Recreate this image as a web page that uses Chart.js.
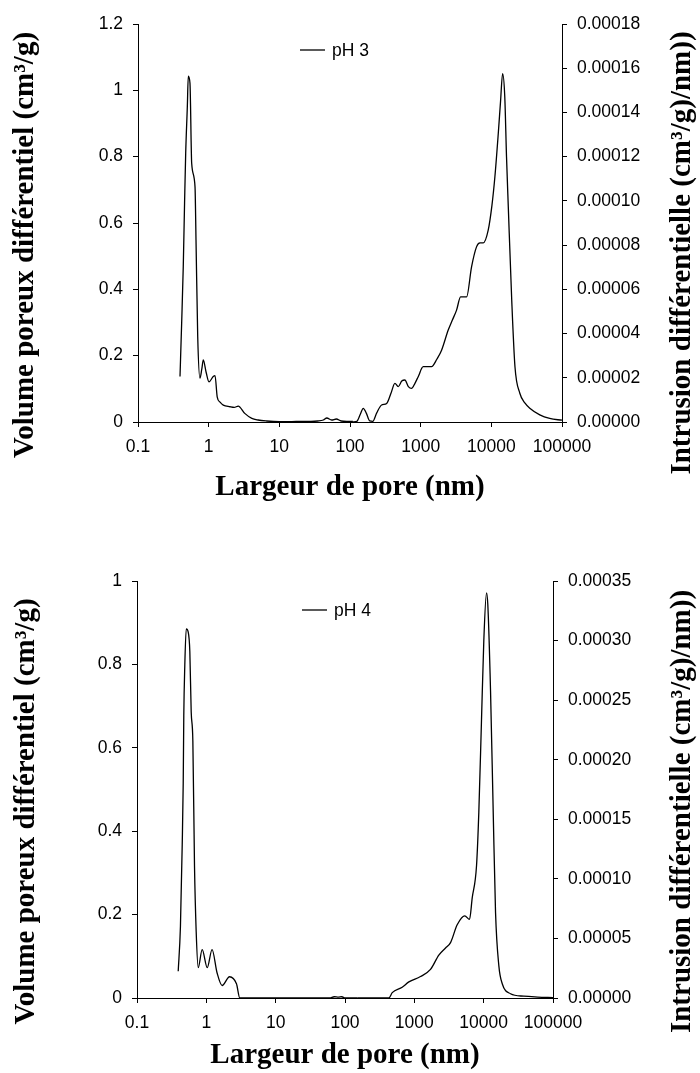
<!DOCTYPE html>
<html>
<head>
<meta charset="utf-8">
<script src="https://cdn.jsdelivr.net/npm/chart.js@4/dist/chart.umd.min.js"></script>
<style>
  body { margin: 0; background: #fff; }
  #wrap { position: relative; width: 700px; height: 1073px; }
  canvas { position: absolute; left: 0; display: block; }
</style>
</head>
<body>
<div id="wrap">
  <canvas id="c3" width="700" height="505" style="top:0"></canvas>
  <canvas id="c4" width="700" height="568" style="top:505px"></canvas>
</div>
<script>
// ---------- données ----------
const xTicks = [0.1, 1, 10, 100, 1000, 10000, 100000];
const xTickLabels = ['0.1', '1', '10', '100', '1000', '10000', '100000'];

// pH 3 : volume poreux différentiel (axe gauche)
const pores3Gauche = [0.393, 0.415, 0.437, 0.456, 0.473, 0.499, 0.515, 0.544, 0.575, 0.641, 0.662, 0.70, 0.753, 0.80, 0.839, 0.92, 1.01, 1.16, 1.23, 1.32, 1.45, 1.61, 2.0, 2.3, 2.62, 3.24, 4.08, 5.0, 6.6, 10, 15, 20, 28, 35, 42, 47, 55, 64, 75, 90, 110];
const volume3 = [0.137, 0.30, 0.468, 0.66, 0.81, 0.951, 1.043, 1.021, 0.78, 0.709, 0.549, 0.257, 0.132, 0.16, 0.187, 0.15, 0.121, 0.137, 0.14, 0.076, 0.06, 0.051, 0.046, 0.044, 0.048, 0.026, 0.011, 0.006, 0.003, 0.001, 0.001, 0.002, 0.002, 0.003, 0.006, 0.012, 0.006, 0.009, 0.003, 0.002, 0.002];

// pH 3 : intrusion différentielle (axe droit)
const pores3Droite = [110, 125, 140, 154, 170, 190, 210, 238, 280, 330, 380, 432, 481, 540, 598, 670, 743, 830, 923, 1087, 1250, 1426, 1700, 1977, 2455, 2800, 3222, 3672, 4100, 4466, 5250, 6170, 6900, 7670, 9030, 10200, 11230, 12540, 13500, 14450, 15500, 16400, 17380, 19440, 21600, 25300, 30000, 35000, 48500, 67000, 100000];
const intrusion3 = [0, 0.3e-6, 3.5e-6, 6.2e-6, 4e-6, 0.5e-6, 0.3e-6, 4e-6, 7.7e-6, 8.4e-6, 1.3e-5, 1.75e-5, 1.6e-5, 1.85e-5, 1.9e-5, 1.6e-5, 1.52e-5, 1.75e-5, 2.05e-5, 2.5e-5, 2.5e-5, 2.5e-5, 2.85e-5, 3.25e-5, 4.16e-5, 4.6e-5, 5.06e-5, 5.66e-5, 5.66e-5, 5.66e-5, 7.02e-5, 7.92e-5, 8.1e-5, 8.1e-5, 8.68e-5, 9.8e-5, 1.109e-4, 1.305e-4, 1.45e-4, 1.576e-4, 1.47e-4, 1.2e-4, 9.73e-5, 5.51e-5, 2.5e-5, 1.3e-5, 8.5e-6, 6.2e-6, 3.2e-6, 1.6e-6, 0.8e-6];

// pH 4 : volume poreux différentiel (axe gauche)
const pores4Gauche = [0.393, 0.423, 0.449, 0.464, 0.473, 0.489, 0.513, 0.547, 0.578, 0.605, 0.639, 0.675, 0.714, 0.764, 0.871, 1.03, 1.21, 1.43, 1.69, 2.16, 2.72, 3.04, 5, 10, 30, 60, 70, 80, 90, 100, 150];
const volume4 = [0.064, 0.171, 0.368, 0.514, 0.677, 0.797, 0.885, 0.878, 0.831, 0.686, 0.617, 0.317, 0.159, 0.073, 0.116, 0.073, 0.116, 0.060, 0.030, 0.051, 0.034, 0, 0, 0, 0, 0, 0.003, 0.002, 0.003, 0, 0];

// pH 4 : intrusion différentielle (axe droit)
const pores4Droite = [150, 429, 480, 668, 834, 1228, 1711, 2255, 2818, 3327, 4151, 5346, 6250, 6836, 7888, 8516, 9312, 10050, 10990, 11480, 12560, 13730, 14830, 16560, 18530, 24400, 37950, 60000, 100000];
const intrusion4 = [0, 0, 4.5e-6, 9e-6, 1.35e-5, 1.8e-5, 2.4e-5, 3.6e-5, 4.2e-5, 4.65e-5, 6.15e-5, 6.9e-5, 6.6e-5, 8.4e-5, 1.11e-4, 1.56e-4, 2.34e-4, 3.0e-4, 3.40e-4, 3.30e-4, 2.58e-4, 1.56e-4, 7.2e-5, 2.7e-5, 1.2e-5, 3.6e-6, 1.5e-6, 0.8e-6, 0.3e-6];

// ---------- mise en forme ----------
const POLICE_TICKS = { family: '"Liberation Sans", Arial, sans-serif', size: 17.5 };
const POLICE_TITRE = { family: '"Liberation Serif", "Times New Roman", serif', size: 29, weight: 'bold' };
const TITRE_X = 'Largeur de pore (nm)';
const TITRE_GAUCHE = 'Volume poreux différentiel (cm³/g)';
const TITRE_DROITE = 'Intrusion différentielle (cm³/g)/nm))';

function points(xs, ys) {
  return xs.map((x, i) => ({ x, y: ys[i] }));
}

// légende + titres verticaux (lus de bas en haut des deux côtés)
const decor = {
  id: 'decor',
  afterDraw(chart, args, o) {
    const { ctx, chartArea: a } = chart;
    ctx.save();
    const lx = a.left + o.legendDx, ly = a.top + o.legendDy;
    ctx.strokeStyle = '#000';
    ctx.lineWidth = 1.3;
    ctx.beginPath(); ctx.moveTo(lx, ly); ctx.lineTo(lx + 25, ly); ctx.stroke();
    ctx.fillStyle = '#000';
    ctx.font = `${POLICE_TICKS.size}px ${POLICE_TICKS.family}`;
    ctx.textAlign = 'left';
    ctx.textBaseline = 'middle';
    ctx.fillText(o.label, lx + 32, ly + 1);

    ctx.font = `bold ${POLICE_TITRE.size}px ${POLICE_TITRE.family}`;
    ctx.textAlign = 'center';
    const cy = (a.top + a.bottom) / 2;
    [[o.leftX, TITRE_GAUCHE, o.leftDy], [o.rightX, TITRE_DROITE, o.rightDy]].forEach(([x, t, dy]) => {
      ctx.save();
      ctx.translate(x, cy + dy);
      ctx.rotate(-Math.PI / 2);
      ctx.fillText(t, 0, 0);
      ctx.restore();
    });
    ctx.restore();
  }
};

function axeY(pos, max, step, largeur, fmt) {
  return {
    type: 'linear', position: pos, min: 0, max: max,
    ticks: { stepSize: step, color: '#000', font: POLICE_TICKS, padding: 10, callback: fmt },
    grid: { drawOnChartArea: false, drawTicks: true, tickLength: 5, color: '#000' },
    border: { display: true, color: '#000', width: 1 },
    afterFit: s => { s.width = largeur; }
  };
}

const styleCourbe = {
  borderColor: '#000', backgroundColor: '#000', borderWidth: 1.3, pointRadius: 0,
  cubicInterpolationMode: 'monotone', clip: false, fill: false
};

function creerGraphe(id, cfg) {
  return new Chart(document.getElementById(id), {
    type: 'line',
    data: {
      datasets: [
        Object.assign({ label: cfg.decor.label, data: points(cfg.px1, cfg.py1), yAxisID: 'y' }, styleCourbe),
        Object.assign({ label: cfg.decor.label, data: points(cfg.px2, cfg.py2), yAxisID: 'y2' }, styleCourbe)
      ]
    },
    options: {
      responsive: false,
      animation: false,
      devicePixelRatio: 1,
      layout: { padding: { top: cfg.top, left: 0, right: 0, bottom: 0 } },
      scales: {
        x: {
          type: 'logarithmic', min: 0.1, max: 100000,
          afterBuildTicks: s => { s.ticks = xTicks.map(v => ({ value: v })); },
          ticks: {
            autoSkip: false, maxRotation: 0, color: '#000', font: POLICE_TICKS, padding: 10,
            callback: v => xTickLabels[xTicks.indexOf(v)]
          },
          grid: { drawOnChartArea: false, drawTicks: true, tickLength: 5, color: '#000' },
          border: { display: true, color: '#000', width: 1 },
          title: { display: true, text: TITRE_X, color: '#000', font: POLICE_TITRE, padding: { top: 0, bottom: 0 } },
          afterFit: s => { s.height = cfg.xHeight; }
        },
        y: axeY('left', cfg.yMax, cfg.yStep, cfg.leftW, v => v === 0 ? '0' : String(+v.toFixed(1))),
        y2: axeY('right', cfg.y2Max, cfg.y2Step, cfg.rightW, v => v.toFixed(5))
      },
      plugins: {
        colors: { enabled: false },
        legend: { display: false },
        tooltip: { enabled: false },
        decor: cfg.decor
      }
    },
    plugins: [decor]
  });
}

creerGraphe('c3', {
  px1: pores3Gauche, py1: volume3, px2: pores3Droite, py2: intrusion3,
  top: 24, xHeight: 83, leftW: 138, rightW: 138,
  yMax: 1.2, yStep: 0.2, y2Max: 0.00018, y2Step: 0.00002,
  decor: { label: 'pH 3', legendDx: 162, legendDy: 26, leftX: 26, rightX: 683, leftDy: 22, rightDy: 30 }
});

creerGraphe('c4', {
  px1: pores4Gauche, py1: volume4, px2: pores4Droite, py2: intrusion4,
  top: 76, xHeight: 75, leftW: 137, rightW: 147,
  yMax: 1, yStep: 0.2, y2Max: 0.00035, y2Step: 0.00005,
  decor: { label: 'pH 4', legendDx: 165, legendDy: 29, leftX: 27, rightX: 683, leftDy: 22, rightDy: 22 }
});
</script>
</body>
</html>
